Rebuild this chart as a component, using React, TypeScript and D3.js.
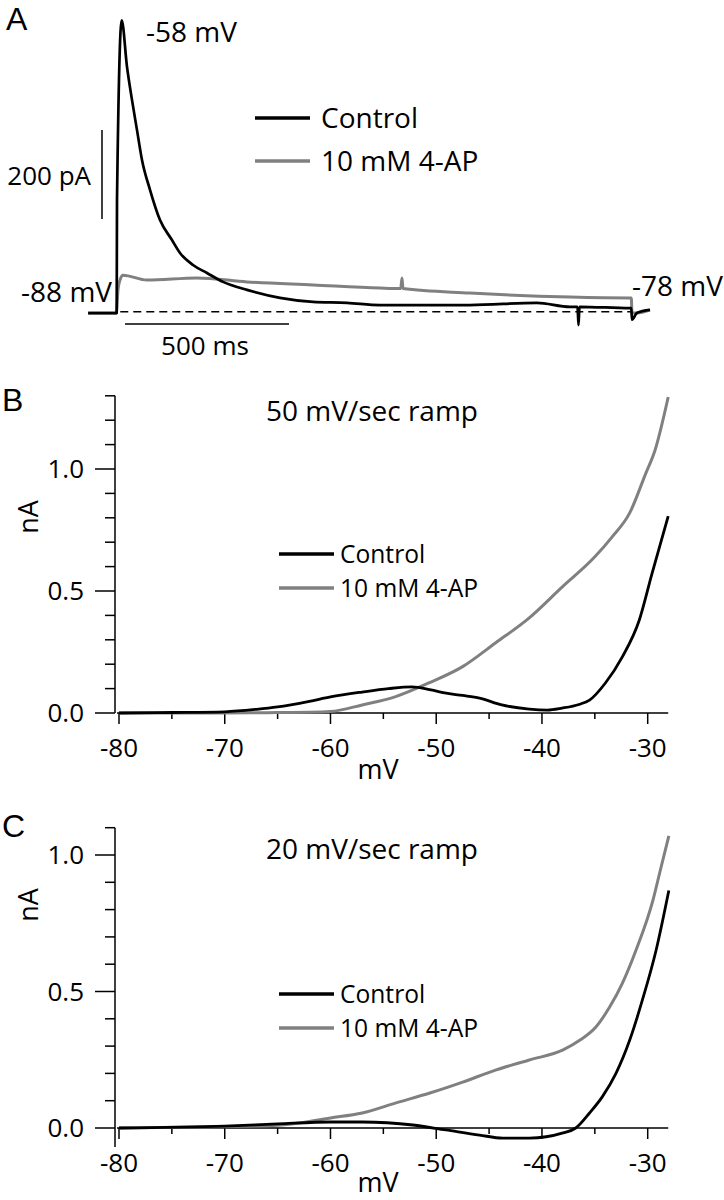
import React from 'react';
import * as d3 from 'd3';

const FONT = '"Open Sans", "Noto Sans", sans-serif';
const LETTER_FONT = '"Liberation Sans", Arial, sans-serif';
const BLACK = '#000000';
const GRAY = '#808080';

// ---------- Panel A: current traces (time in ms from step onset, current in pA) ----------
const aCtrlT = [-88, -3, -1, 0, 14.3, 30.5, 45.7, 61, 76.2, 100.6, 131.1, 167.7, 192.1, 231.7, 274.4, 323.2, 396.3, 497, 597.6, 701.2, 801.8, 1076, 1280, 1381, 1404, 1407, 1410, 1564, 1568, 1570, 1585, 1625];
const aCtrlI = [-3, -3, -3, 251, 655, 550, 476, 408, 341, 274, 206, 161, 132, 105, 87, 67, 49, 31, 22, 20, 15, 15, 20, 11, 11, -30, 11, 8, 8, -18, -3, 4];
const aApT = [-88, -2, 3, 9.1, 18.3, 91.5, 243.9, 396.3, 597.6, 801.8, 865, 868.9, 872, 1076, 1381, 1564, 1568, 1570, 1585, 1625];
const aApI = [-3, -3, 49, 71, 82, 71, 76, 67, 60, 53, 52, 76, 52, 42, 33, 31, 31, -3, -3, 4];

// ---------- Panel B: 50 mV/sec ramp ----------
const bCtrlV = [-80, -75, -70, -67, -65, -62, -60, -57, -54.5, -52.3, -50.5, -49.2, -47.5, -45.9, -43.8, -41.2, -39.5, -38.1, -36.5, -35.5, -34.0, -32.4, -30.8, -29.6, -28.06];
const bCtrlI = [0, 0.002, 0.005, 0.015, 0.025, 0.048, 0.066, 0.086, 0.1, 0.107, 0.095, 0.082, 0.072, 0.061, 0.033, 0.016, 0.012, 0.02, 0.035, 0.053, 0.123, 0.23, 0.38, 0.57, 0.807];
const bApV = [-80, -70, -67, -65, -62, -60, -57, -53.9, -50.7, -47.5, -44.4, -41.2, -38.1, -35.0, -33.4, -31.7, -30.2, -29.3, -28.06];
const bApI = [0, 0, 0.001, 0.002, 0.003, 0.006, 0.033, 0.066, 0.123, 0.19, 0.287, 0.39, 0.516, 0.64, 0.72, 0.82, 0.98, 1.078, 1.295];

// ---------- Panel C: 20 mV/sec ramp ----------
const cCtrlV = [-80, -70, -65, -60, -57, -52.2, -49.1, -45.9, -43.7, -41.2, -38.0, -36.8, -35.5, -34.3, -33.0, -31.7, -30.5, -29.2, -28.0];
const cCtrlI = [0, 0.007, 0.015, 0.022, 0.022, 0.011, -0.007, -0.026, -0.037, -0.037, -0.018, 0.0, 0.055, 0.114, 0.2, 0.322, 0.469, 0.652, 0.87];
const cApV = [-80, -70, -65, -60, -57, -53.8, -50.6, -47.5, -44.4, -41.2, -38.0, -36.4, -34.9, -33.6, -32.4, -31.1, -29.5, -28.8, -28.0];
const cApI = [0, 0.005, 0.01, 0.037, 0.055, 0.092, 0.128, 0.168, 0.212, 0.249, 0.286, 0.322, 0.37, 0.443, 0.53, 0.652, 0.835, 0.945, 1.07];

const xMajor = [-80, -70, -60, -50, -40, -30];
const xMinor = [-75, -65, -55, -45, -35];
const legendLabels = ['Control', '10 mM 4-AP'];

type Pt = [number, number];
const zip = (a: number[], b: number[]): Pt[] => a.map((v, i) => [v, b[i]]);

function RampPanel(props: {
  top: number; // y pixel of 0 nA
  pxPerNA: number;
  yMin: number;
  yMax: number;
  ctrl: Pt[];
  ap: Pt[];
  title: string;
  titleY: number;
  legendY: number;
  letter: string;
  letterY: number;
  nAy: number;
  mvOffset: number;
}) {
  const { top, pxPerNA, yMin, yMax, ctrl, ap } = props;
  const x = d3.scaleLinear().domain([-80, -30]).range([119, 647.7]);
  const y = d3.scaleLinear().domain([0, 1]).range([top, top - pxPerNA]);
  const line = d3.line<Pt>().x(d => x(d[0])).y(d => y(d[1])).curve(d3.curveMonotoneX);
  const yTicks = d3.range(0, Math.round(yMax * 10) + 1).map(i => i / 10);
  const isMajor = (v: number) => Math.abs(v * 2 - Math.round(v * 2)) < 1e-6;
  const axX = 115;
  const gap = 34;
  return (
    <g>
      <text x={2} y={props.letterY} fontSize={32} fontFamily={LETTER_FONT}>{props.letter}</text>
      {/* y axis */}
      <line x1={axX} x2={axX} y1={y(yMax)} y2={y(yMin)} stroke={BLACK} strokeWidth={1.5} />
      {yTicks.map(v => (
        <line key={'yt' + v} x1={axX - (isMajor(v) ? 20 : 10)} x2={axX} y1={y(v)} y2={y(v)} stroke={BLACK} strokeWidth={1.5} />
      ))}
      {yTicks.filter(isMajor).map(v => (
        <text key={'yl' + v} x={84} y={y(v)} dy="0.36em" textAnchor="end" fontSize={26} fontFamily={FONT}>{v.toFixed(1)}</text>
      ))}
      <text transform={`translate(38,${props.nAy}) rotate(-90)`} textAnchor="middle" fontSize={27} fontFamily={FONT}>nA</text>
      {/* x axis */}
      <line x1={117} x2={x(-28.06)} y1={y(0)} y2={y(0)} stroke={BLACK} strokeWidth={1.5} />
      {xMajor.map(v => (
        <line key={'xt' + v} x1={x(v)} x2={x(v)} y1={y(0)} y2={y(0) + 11} stroke={BLACK} strokeWidth={1.5} />
      ))}
      {xMinor.map(v => (
        <line key={'xm' + v} x1={x(v)} x2={x(v)} y1={y(0)} y2={y(0) + 6} stroke={BLACK} strokeWidth={1.5} />
      ))}
      {xMajor.map(v => (
        <text key={'xl' + v} x={x(v)} y={y(0) + 44} textAnchor="middle" fontSize={26} fontFamily={FONT}>{v}</text>
      ))}
      <text x={x(-55.5)} y={y(0) + props.mvOffset} textAnchor="middle" fontSize={27} fontFamily={FONT}>mV</text>
      {/* title */}
      <text x={266} y={props.titleY} fontSize={28} fontFamily={FONT}>{props.title}</text>
      {/* curves */}
      <path d={line(ap) || ''} fill="none" stroke={GRAY} strokeWidth={3} />
      <path d={line(ctrl) || ''} fill="none" stroke={BLACK} strokeWidth={2.8} />
      {/* legend */}
      {[BLACK, GRAY].map((c, i) => (
        <g key={'lg' + i}>
          <line x1={279} x2={334} y1={props.legendY + i * gap} y2={props.legendY + i * gap} stroke={c} strokeWidth={3.5} />
          <text x={340} y={props.legendY + i * gap} dy="0.36em" fontSize={24.6} fontFamily={FONT}>{legendLabels[i]}</text>
        </g>
      ))}
    </g>
  );
}

export default function App() {
  const xA = d3.scaleLinear().domain([0, 500]).range([117, 281]);
  const yA = d3.scaleLinear().domain([0, 200]).range([311.7, 222.7]);
  const lineA = d3.line<Pt>().x(d => xA(d[0])).y(d => yA(d[1])).curve(d3.curveMonotoneX);
  const ctrlA = zip(aCtrlT, aCtrlI);
  const apA = zip(aApT, aApI);
  const barTop = 130;
  return (
    <svg width={724} height={1200} style={{ position: 'absolute', left: 0, top: 0, background: '#fff' }}>
      <rect width={724} height={1200} fill="#fff" />
      {/* Panel A */}
      <text x={6} y={30} fontSize={32} fontFamily={LETTER_FONT}>A</text>
      <line x1={xA(10)} x2={xA(1570)} y1={yA(0)} y2={yA(0)} stroke={BLACK} strokeWidth={1.5} strokeDasharray="8,5" />
      <path d={lineA(apA) || ''} fill="none" stroke={GRAY} strokeWidth={3} />
      <path d={lineA(ctrlA) || ''} fill="none" stroke={BLACK} strokeWidth={2.7} strokeLinejoin="round" />
      {/* scale bars */}
      <line x1={102} x2={102} y1={barTop} y2={barTop + (yA(0) - yA(200))} stroke={BLACK} strokeWidth={1.5} />
      <text x={91} y={185} textAnchor="end" fontSize={26} fontFamily={FONT}>200 pA</text>
      <line x1={125} x2={125 + (xA(500) - xA(0))} y1={324} y2={324} stroke={BLACK} strokeWidth={1.5} />
      <text x={205} y={355} textAnchor="middle" fontSize={26} fontFamily={FONT}>500 ms</text>
      <text x={146} y={42} fontSize={28} fontFamily={FONT}>-58 mV</text>
      <text x={112} y={302} textAnchor="end" fontSize={28} fontFamily={FONT}>-88 mV</text>
      <text x={632} y={296} fontSize={28} fontFamily={FONT}>-78 mV</text>
      {[BLACK, GRAY].map((c, i) => (
        <g key={'la' + i}>
          <line x1={255} x2={310} y1={118 + i * 43} y2={118 + i * 43} stroke={c} strokeWidth={3.5} />
          <text x={321} y={118 + i * 43} dy="0.36em" fontSize={28} fontFamily={FONT}>{legendLabels[i]}</text>
        </g>
      ))}
      <RampPanel top={713} pxPerNA={244} yMin={0} yMax={1.3} ctrl={zip(bCtrlV, bCtrlI)} ap={zip(bApV, bApI)}
        title="50 mV/sec ramp" titleY={421} legendY={554} letter="B" letterY={411} nAy={517} mvOffset={66} />
      <RampPanel top={1128} pxPerNA={273} yMin={-0.07} yMax={1.1} ctrl={zip(cCtrlV, cCtrlI)} ap={zip(cApV, cApI)}
        title="20 mV/sec ramp" titleY={859} legendY={994} letter="C" letterY={837} nAy={905} mvOffset={64} />
    </svg>
  );
}
